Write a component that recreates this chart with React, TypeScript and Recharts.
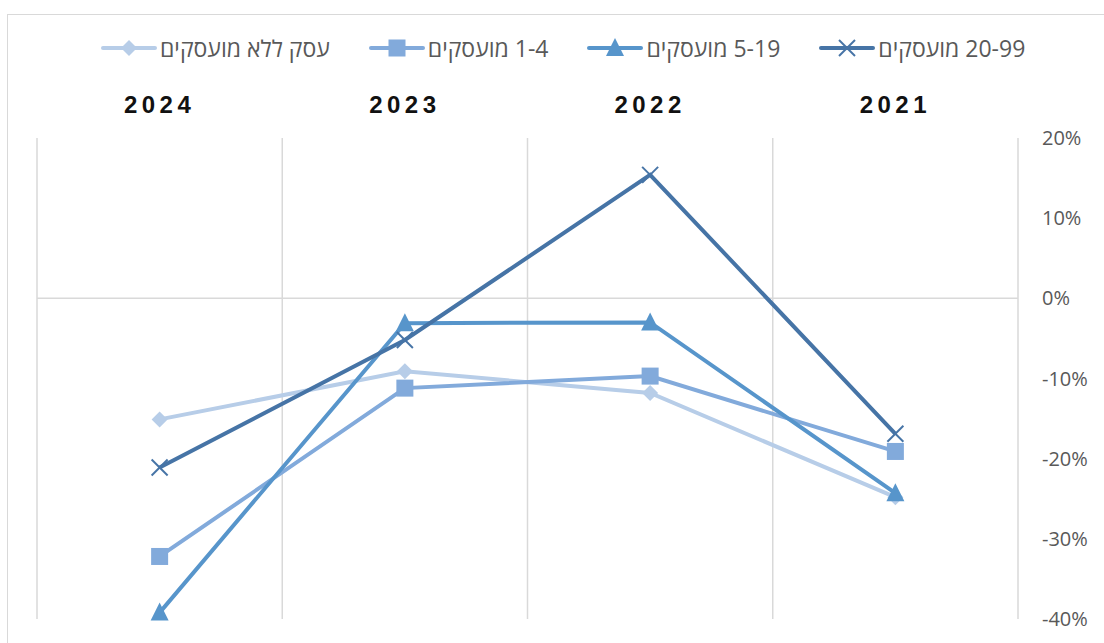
import React from "react";
import { LineChart, Line, XAxis, YAxis, CartesianGrid, ReferenceLine } from "recharts";

const years = ["2021", "2022", "2023", "2024"];
const noEmployees = [-0.248, -0.118, -0.091, -0.151];
const emp1to4 = [-0.191, -0.097, -0.112, -0.322];
const emp5to19 = [-0.243, -0.030, -0.031, -0.392];
const emp20to99 = [-0.169, 0.154, -0.052, -0.211];
const yTicks = [-0.4, -0.3, -0.2, -0.1, 0, 0.1, 0.2];

const series = [
  { key: "s0", name: "עסק ללא מועסקים", color: "#B7CDE8", shape: "diamond", values: noEmployees },
  { key: "s1", name: "1-4 מועסקים", color: "#82AADB", shape: "square", values: emp1to4 },
  { key: "s2", name: "5-19 מועסקים", color: "#5795CB", shape: "triangle", values: emp5to19 },
  { key: "s3", name: "20-99 מועסקים", color: "#4674A6", shape: "x", values: emp20to99 },
];

const data = years.map((y, i) => {
  const row: any = { year: y };
  series.forEach((s) => (row[s.key] = s.values[i]));
  return row;
});

function Marker({ cx, cy, shape, color }: any) {
  if (cx == null || cy == null) return null;
  if (shape === "diamond")
    return <polygon points={`${cx},${cy - 8} ${cx + 8},${cy} ${cx},${cy + 8} ${cx - 8},${cy}`} fill={color} />;
  if (shape === "square") return <rect x={cx - 8.5} y={cy - 8.5} width={17} height={17} fill={color} />;
  if (shape === "triangle")
    return <polygon points={`${cx},${cy - 10} ${cx + 9},${cy + 8} ${cx - 9},${cy + 8}`} fill={color} />;
  return (
    <g stroke={color} strokeWidth={2}>
      <line x1={cx - 8} y1={cy - 8} x2={cx + 8} y2={cy + 8} />
      <line x1={cx - 8} y1={cy + 8} x2={cx + 8} y2={cy - 8} />
    </g>
  );
}

function LegendItem({ s, last }: any) {
  return (
    <div style={{ display: "flex", alignItems: "center", marginRight: last ? 0 : 39 }}>
      <svg width={56} height={20} style={{ marginRight: 3 }}>
        <line x1={2} y1={10} x2={54} y2={10} stroke={s.color} strokeWidth={4} strokeLinecap="round" />
        <Marker cx={28} cy={10} shape={s.shape} color={s.color} />
      </svg>
      <span style={{ direction: "rtl", fontSize: 23, color: "#595959", whiteSpace: "nowrap" }}>{s.name}</span>
    </div>
  );
}

export default function App() {
  return (
    <div
      style={{
        position: "absolute",
        left: 0,
        top: 0,
        width: 1104,
        height: 643,
        overflow: "hidden",
        background: "#fff",
        fontFamily: "'Open Sans', sans-serif",
      }}
    >
      <div
        style={{
          position: "absolute",
          left: 7,
          top: 14,
          width: 1200,
          height: 800,
          border: "1.5px solid #D9D9D9",
        }}
      />
      <div
        style={{
          position: "absolute",
          left: 101,
          top: 32,
          display: "flex",
          alignItems: "center",
        }}
      >
        {series.map((s, i) => (
          <LegendItem key={s.key} s={s} last={i === series.length - 1} />
        ))}
      </div>
      <div style={{ position: "absolute", left: 0, top: 0 }}>
        <LineChart width={1104} height={643} data={data} margin={{ top: 98, right: 10, bottom: 24, left: 37 }}>
          <CartesianGrid
            horizontal={false}
            vertical={true}
            stroke="#D9D9D9"
            strokeWidth={1.5}
            verticalCoordinatesGenerator={({ offset }: any) =>
              [0, 1, 2, 3, 4].map((i) => offset.left + (i * offset.width) / 4)
            }
          />
          <XAxis
            dataKey="year"
            orientation="top"
            reversed
            scale="band"
            axisLine={false}
            tickLine={false}
            tickSize={0}
            tickMargin={25}
            height={40}
            tick={{ fontSize: 24, fontWeight: 700, fill: "#111", letterSpacing: 4.5, fontFamily: "'Liberation Sans', Arial, sans-serif" }}
          />
          <YAxis
            orientation="right"
            domain={[-0.4, 0.2]}
            ticks={yTicks}
            width={76}
            axisLine={false}
            tickLine={false}
            tickSize={0}
            tickMargin={24}
            interval={0}
            tickFormatter={(v: number) => `${Math.round(v * 100)}%`}
            tick={{ fontSize: 20, fill: "#595959", textAnchor: "start" }}
          />
          <ReferenceLine y={0} stroke="#D9D9D9" strokeWidth={1.5} />
          {series.map((s) => (
            <Line
              key={s.key}
              dataKey={s.key}
              name={s.name}
              stroke={s.color}
              strokeWidth={4}
              isAnimationActive={false}
              dot={(p: any) => <Marker key={`${s.key}-${p.index}`} cx={p.cx} cy={p.cy} shape={s.shape} color={s.color} />}
              activeDot={false}
            />
          ))}
        </LineChart>
      </div>
    </div>
  );
}
